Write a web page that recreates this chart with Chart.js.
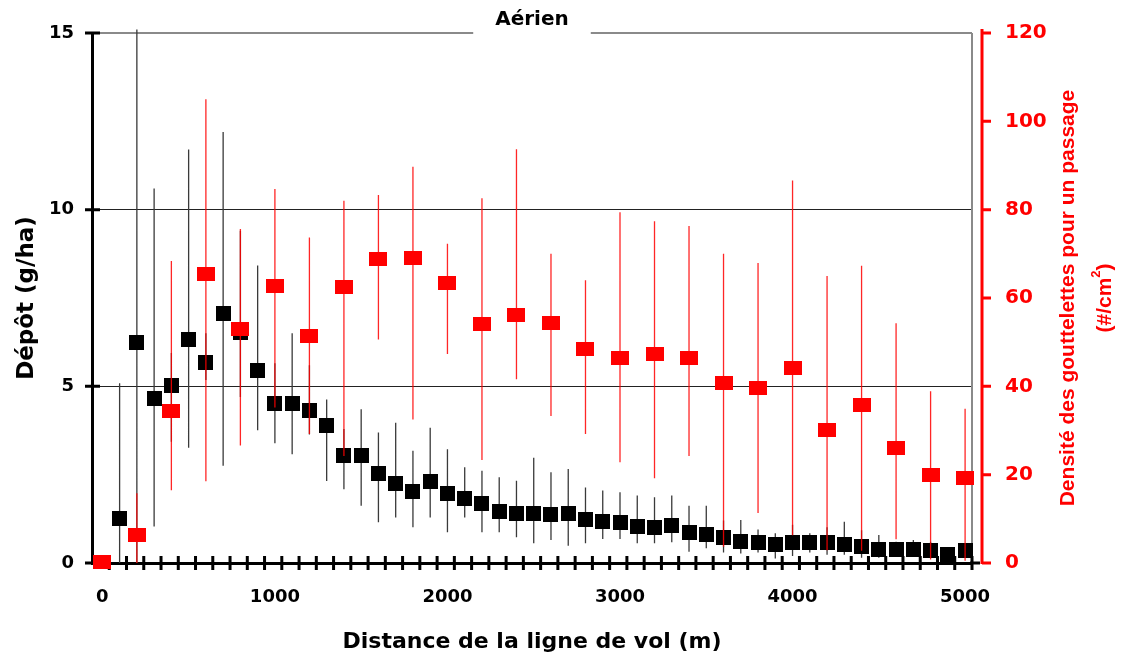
<!DOCTYPE html>
<html lang="fr">
<head>
<meta charset="utf-8">
<title>Aérien</title>
<script src="https://cdn.jsdelivr.net/npm/chart.js@4.4.1/dist/chart.umd.min.js"></script>
<style>
  html, body { margin: 0; padding: 0; background: #fff; }
</style>
</head>
<body>
<canvas id="depotChart" width="1125" height="662"></canvas>
<script>
// Dépôt (carrés noirs), un point tous les 100 m
const distancesDepot = [100, 200, 300, 400, 500, 600, 700, 800, 900, 1000,
  1100, 1200, 1300, 1400, 1500, 1600, 1700, 1800, 1900, 2000,
  2100, 2200, 2300, 2400, 2500, 2600, 2700, 2800, 2900, 3000,
  3100, 3200, 3300, 3400, 3500, 3600, 3700, 3800, 3900, 4000,
  4100, 4200, 4300, 4400, 4500, 4600, 4700, 4800, 4900, 5000];
const depot = [1.26, 6.25, 4.66, 5.03, 6.33, 5.68, 7.07, 6.53, 5.44, 4.52,
  4.52, 4.33, 3.90, 3.03, 3.03, 2.54, 2.26, 2.03, 2.32, 1.97,
  1.83, 1.69, 1.47, 1.41, 1.41, 1.38, 1.41, 1.24, 1.18, 1.15,
  1.03, 1.01, 1.05, 0.87, 0.81, 0.73, 0.61, 0.58, 0.53, 0.58,
  0.58, 0.58, 0.53, 0.48, 0.39, 0.39, 0.39, 0.34, 0.24, 0.34];
const depotMax = [5.09, 15.1, 10.6, 5.94, 11.7, 6.5, 12.2, 9.4, 8.42, 5.65,
  6.5, 5.6, 4.63, 3.79, 4.35, 3.69, 3.97, 3.18, 3.83, 3.22,
  2.71, 2.61, 2.43, 2.33, 2.98, 2.57, 2.66, 2.14, 2.05, 2.0,
  1.91, 1.86, 1.91, 1.62, 1.62, 1.2, 1.22, 0.95, 0.84, 1.08,
  0.84, 1.01, 1.17, 0.93, 0.79, 0.6, 0.65, 0.6, 0.3, 0.45];
const depotMin = [0, 0, 1.03, 3.43, 3.26, 5.18, 2.75, 4.7, 3.76, 3.39,
  3.08, 3.64, 2.32, 2.09, 1.62, 1.15, 1.29, 1.01, 1.29, 0.87,
  1.29, 0.87, 0.87, 0.73, 0.56, 0.65, 0.49, 0.56, 0.68, 0.68,
  0.56, 0.56, 0.59, 0.32, 0.42, 0.3, 0.27, 0.3, 0.13, 0.2,
  0.3, 0.23, 0.23, 0.15, 0.15, 0.2, 0.2, 0.15, 0.1, 0.15];

// Densité des gouttelettes (carrés rouges), un point tous les 200 m
const distancesDensite = [0, 200, 400, 600, 800, 1000, 1200, 1400, 1600, 1800,
  2000, 2200, 2400, 2600, 2800, 3000, 3200, 3400, 3600, 3800,
  4000, 4200, 4400, 4600, 4800, 5000];
const densite = [0.3, 6.4, 34.5, 65.4, 53.0, 62.8, 51.5, 62.6, 68.9, 69.1,
  63.5, 54.1, 56.2, 54.4, 48.5, 46.5, 47.4, 46.5, 40.8, 39.7,
  44.2, 30.2, 35.8, 26.1, 20.0, 19.3];
const densiteMax = [0, 15.8, 68.4, 105, 75.6, 84.7, 73.7, 82.0, 83.3, 89.7,
  72.3, 82.6, 93.7, 70.0, 64.0, 79.4, 77.4, 76.3, 70.0, 67.9,
  86.6, 65.0, 67.3, 54.3, 38.9, 34.9];
const densiteMin = [0, 0, 16.5, 18.5, 26.6, 35.2, 29.2, 24.2, 50.6, 32.5,
  47.3, 23.3, 41.6, 33.3, 29.2, 22.8, 19.2, 24.2, 3.7, 11.3,
  6.3, 2.9, 2.8, 5.4, 0.8, 0.5];

// graduations des axes
const xLabels = [0, 1000, 2000, 3000, 4000, 5000];
const yLabels = [0, 5, 10, 15];
const y1Labels = [0, 20, 40, 60, 80, 100, 120];

const ROUGE = '#ff0000';
const POLICE = "'DejaVu Sans', 'Liberation Sans', sans-serif";

// petits carrés pleins pour les marqueurs
function carre(w, h, color) {
    const c = document.createElement('canvas');
    c.width = w;
    c.height = h;
    const g = c.getContext('2d');
    g.fillStyle = color;
    g.fillRect(0, 0, w, h);
    return c;
}

function barresErreur(chart, xs, lows, highs, yId, color) {
    const ctx = chart.ctx;
    const xs_ = chart.scales.x;
    const ys = chart.scales[yId];
    ctx.save();
    ctx.strokeStyle = color;
    ctx.lineWidth = 1.3;
    ctx.beginPath();
    xs.forEach(function(x, i) {
        if (highs[i] === lows[i]) return;
        const px = xs_.getPixelForValue(x);
        ctx.moveTo(px, ys.getPixelForValue(highs[i]));
        ctx.lineTo(px, ys.getPixelForValue(lows[i]));
    });
    ctx.stroke();
    ctx.restore();
}

const habillage = {
    id: 'habillage',
    beforeDatasetsDraw(chart) {
        const { ctx, chartArea: a, scales } = chart;
        ctx.save();

        // cadre gris (haut interrompu par le titre, droite)
        ctx.font = 'bold 20px ' + POLICE;
        const mid = (a.left + a.right) / 2;
        const demi = ctx.measureText('Aérien').width / 2 + 22;
        ctx.strokeStyle = '#8a8a8a';
        ctx.lineWidth = 2;
        ctx.beginPath();
        ctx.moveTo(a.left, a.top);
        ctx.lineTo(mid - demi, a.top);
        ctx.moveTo(mid + demi, a.top);
        ctx.lineTo(a.right, a.top);
        ctx.moveTo(a.right, a.top);
        ctx.lineTo(a.right, a.bottom);
        ctx.stroke();

        // axe des x prolongé + petites graduations tous les 100 m
        ctx.strokeStyle = '#000';
        ctx.lineWidth = 3;
        ctx.beginPath();
        ctx.moveTo(a.right - 2, a.bottom);
        ctx.lineTo(a.right + 8, a.bottom);
        for (let v = scales.x.min + 100; v <= scales.x.max; v += 100) {
            const px = scales.x.getPixelForValue(v);
            ctx.moveTo(px, a.bottom - 7);
            ctx.lineTo(px, a.bottom + 7);
        }
        // graduations de l'axe gauche, qui traversent l'axe
        yLabels.forEach(function(v) {
            const py = scales.y.getPixelForValue(v);
            ctx.moveTo(a.left - 7, py);
            ctx.lineTo(a.left + 8, py);
        });
        ctx.stroke();
        ctx.restore();
    },
    beforeDatasetDraw(chart, args) {
        if (args.index === 1) {
            barresErreur(chart, distancesDepot, depotMin, depotMax, 'y', '#3a3a3a');
        } else {
            barresErreur(chart, distancesDensite, densiteMin, densiteMax, 'y1', 'rgba(255,0,0,0.85)');
        }
    },
    afterDraw(chart) {
        const { ctx, chartArea: a, scales } = chart;
        const y1 = scales.y1;
        const x0 = a.right + 10;
        ctx.save();

        // axe rouge de droite
        ctx.strokeStyle = ROUGE;
        ctx.lineWidth = 3;
        ctx.beginPath();
        ctx.moveTo(x0, y1.getPixelForValue(120) - 4);
        ctx.lineTo(x0, a.bottom + 1);
        y1Labels.forEach(function(v) {
            const py = y1.getPixelForValue(v);
            ctx.moveTo(x0, py);
            ctx.lineTo(x0 + 9, py);
        });
        ctx.stroke();

        // titre de l'axe de droite, en deux lignes, lu de bas en haut
        const cy = (a.top + a.bottom) / 2;
        const grand = "bold 21px 'Liberation Sans', Arial, sans-serif";
        const petit = "bold 13px 'Liberation Sans', Arial, sans-serif";
        ctx.fillStyle = ROUGE;
        ctx.textBaseline = 'middle';
        ctx.textAlign = 'center';
        ctx.font = grand;
        ctx.save();
        ctx.translate(y1.right + 21, cy);
        ctx.rotate(-Math.PI / 2);
        ctx.fillText('Densité des gouttelettes pour un passage', 0, 0);
        ctx.restore();

        ctx.save();
        ctx.translate(y1.right + 58, cy);
        ctx.rotate(-Math.PI / 2);
        ctx.textAlign = 'left';
        ctx.font = grand;
        const w1 = ctx.measureText('(#/cm').width;
        const w3 = ctx.measureText(')').width;
        ctx.font = petit;
        const w2 = ctx.measureText('2').width;
        let x = -(w1 + w2 + w3) / 2;
        ctx.font = grand;
        ctx.fillText('(#/cm', x, 0);
        x += w1;
        ctx.font = petit;
        ctx.fillText('2', x, -9);
        x += w2;
        ctx.font = grand;
        ctx.fillText(')', x, 0);
        ctx.restore();

        ctx.restore();
    }
};

const ctx = document.getElementById('depotChart').getContext('2d');

new Chart(ctx, {
    type: 'scatter',
    data: {
        datasets: [{
            label: 'Densité des gouttelettes',
            data: distancesDensite.map((x, i) => ({ x: x, y: densite[i] })),
            yAxisID: 'y1',
            pointStyle: carre(18, 14, ROUGE),
            pointRadius: 9,
            pointHoverRadius: 9,
            clip: false
        }, {
            label: 'Dépôt',
            data: distancesDepot.map((x, i) => ({ x: x, y: depot[i] })),
            yAxisID: 'y',
            pointStyle: carre(15, 15, '#000'),
            pointRadius: 8,
            pointHoverRadius: 8,
            clip: false
        }]
    },
    options: {
        responsive: false,
        animation: false,
        layout: {
            autoPadding: false,
            padding: { left: 0, right: 78, top: 0, bottom: 0 }
        },
        plugins: {
            legend: { display: false },
            tooltip: { enabled: false },
            title: {
                display: true,
                text: 'Aérien',
                fullSize: false,
                color: '#000',
                font: { family: POLICE, size: 20, weight: 'bold' },
                padding: { top: 8, bottom: 1 }
            }
        },
        scales: {
            x: {
                type: 'linear',
                position: 'bottom',
                min: -60,
                max: 5040,
                afterBuildTicks: s => { s.ticks = xLabels.map(v => ({ value: v })); },
                afterFit: s => { s.height = 99; s.paddingLeft = 0; s.paddingRight = 0; },
                grid: { display: false, drawTicks: false },
                border: { display: true, color: '#000', width: 3 },
                ticks: {
                    color: '#000',
                    padding: 24,
                    maxRotation: 0,
                    autoSkip: false,
                    callback: v => String(v),
                    font: { family: POLICE, size: 18, weight: 'bold' }
                },
                title: {
                    display: true,
                    text: 'Distance de la ligne de vol (m)',
                    color: '#000',
                    font: { family: POLICE, size: 22, weight: 'bold' },
                    padding: { top: 20, bottom: 7 }
                }
            },
            y: {
                position: 'left',
                min: 0,
                max: 15,
                afterBuildTicks: s => { s.ticks = yLabels.map(v => ({ value: v })); },
                afterFit: s => { s.width = 92; s.paddingTop = 0; s.paddingBottom = 0; },
                grid: {
                    drawTicks: false,
                    lineWidth: 1,
                    color: c => (c.tick && (c.tick.value === 5 || c.tick.value === 10)) ? '#222' : 'rgba(0,0,0,0)'
                },
                border: { color: '#000', width: 3 },
                ticks: {
                    color: '#000',
                    padding: 18,
                    callback: v => String(v),
                    font: { family: POLICE, size: 18, weight: 'bold' }
                },
                title: {
                    display: true,
                    text: 'Dépôt (g/ha)',
                    color: '#000',
                    font: { family: POLICE, size: 23, weight: 'bold' },
                    padding: { top: 13, bottom: 8 }
                }
            },
            y1: {
                position: 'right',
                min: 0,
                max: 120,
                afterBuildTicks: s => { s.ticks = y1Labels.map(v => ({ value: v })); },
                afterFit: s => { s.width = 75; s.paddingTop = 0; s.paddingBottom = 0; },
                grid: { drawOnChartArea: false, drawTicks: false },
                border: { display: false },
                ticks: {
                    color: ROUGE,
                    padding: 33,
                    callback: v => String(v),
                    font: { family: POLICE, size: 20, weight: 'bold' }
                }
            }
        }
    },
    plugins: [habillage]
});
</script>
</body>
</html>
